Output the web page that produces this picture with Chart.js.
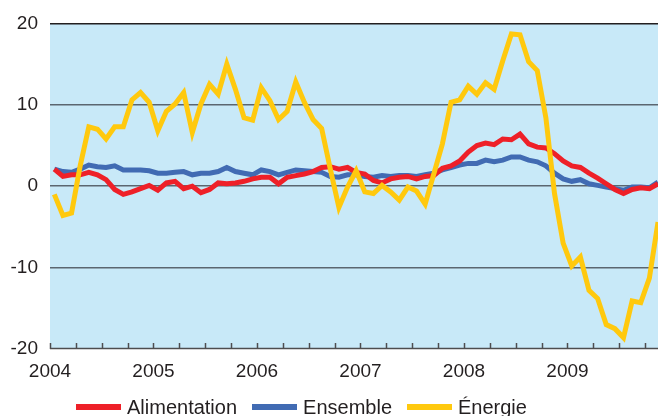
<!DOCTYPE html>
<html>
<head>
<meta charset="utf-8">
<script src="https://cdn.jsdelivr.net/npm/chart.js@4.4.1/dist/chart.umd.min.js"></script>
<style>
    body { margin: 0; background: #fff; overflow: hidden; }
    #wrap { position: relative; width: 658px; height: 416px; overflow: hidden; }
    #myChart { position: absolute; left: 0; top: 0; }
    #legend {
        position: absolute; left: 76px; top: 397px;
        display: flex; gap: 15px;
        font: 20px "Liberation Sans", Arial, sans-serif; line-height: 20px; color: #231f20;
    }
    #legend .item { display: flex; align-items: center; white-space: nowrap; }
    #legend .swatch { width: 45px; height: 6px; margin-right: 6px; }
</style>
</head>
<body>
<div id="wrap">
    <canvas id="myChart" width="658" height="416"></canvas>
    <div id="legend"></div>
</div>
<script>
// tick labels (one per year, Jan 2004 = month 0)
const years = ['2004', '2005', '2006', '2007', '2008', '2009'];
const seriesNames = ['Alimentation', 'Ensemble', 'Énergie'];
const seriesColors = ['#ee2028', '#416bb3', '#ffc90e'];

// monthly values, Jan 2004 .. Nov 2009
const alimentation = [
    2.1, 1.2, 1.4, 1.4, 1.7, 1.4, 0.8, -0.4, -1.0, -0.7, -0.3, 0.1,
    -0.5, 0.4, 0.6, -0.3, 0.0, -0.8, -0.4, 0.4, 0.3, 0.4, 0.6, 0.9,
    1.1, 1.1, 0.3, 1.1, 1.3, 1.5, 1.8, 2.3, 2.4, 2.1, 2.3, 1.7,
    1.5, 0.7, 0.4, 0.9, 1.1, 1.2, 0.9, 1.2, 1.3, 2.2, 2.5, 3.1,
    4.2, 5.0, 5.3, 5.1, 5.8, 5.7, 6.4, 5.2, 4.8, 4.7, 4.0, 3.1,
    2.5, 2.3, 1.6, 1.0, 0.3, -0.4, -0.9, -0.4, -0.2, -0.3, 0.3
];
const ensemble = [
    2.1, 1.8, 1.7, 2.1, 2.6, 2.4, 2.3, 2.5, 2.0, 2.0, 2.0, 1.9,
    1.6, 1.6, 1.7, 1.8, 1.4, 1.6, 1.6, 1.8, 2.3, 1.8, 1.6, 1.4,
    2.0, 1.8, 1.4, 1.7, 2.0, 1.9, 1.8, 1.7, 1.2, 1.1, 1.4, 1.4,
    1.2, 1.1, 1.3, 1.2, 1.3, 1.3, 1.2, 1.4, 1.6, 2.0, 2.3, 2.6,
    2.8, 2.8, 3.2, 3.0, 3.2, 3.6, 3.6, 3.2, 3.0, 2.5, 1.6, 0.9,
    0.6, 0.8, 0.3, 0.1, -0.1, -0.3, -0.5, -0.1, -0.1, -0.2, 0.5
];
const energie = [
    -1.0, -3.6, -3.3, 2.5, 7.3, 7.0, 5.8, 7.3, 7.3, 10.6, 11.5, 10.3,
    6.8, 9.2, 10.1, 11.5, 6.6, 10.1, 12.5, 11.3, 15.0, 11.9, 8.4, 8.1,
    12.1, 10.5, 8.2, 9.2, 12.8, 10.3, 8.2, 7.1, 2.1, -2.6, -0.1, 1.9,
    -0.7, -0.9, 0.1, -0.7, -1.7, -0.1, -0.6, -2.2, 1.5, 5.2, 10.3, 10.6,
    12.3, 11.3, 12.7, 11.9, 15.4, 18.7, 18.6, 15.3, 14.2, 8.4, -0.9, -7.0,
    -9.8, -8.7, -12.8, -13.8, -17.0, -17.5, -18.6, -14.1, -14.3, -11.3, -4.4
];
const yTicks = [-20, -10, 0, 10, 20];

// points sit in the middle of their month
const toPoints = (values) => values.map((v, i) => ({ x: i + 0.5, y: v }));

// light blue plot background
const plotBackground = {
    id: 'plotBackground',
    beforeDraw: (chart) => {
        const a = chart.chartArea;
        const c = chart.ctx;
        c.save();
        c.fillStyle = '#c8e9f8';
        c.fillRect(a.left, a.top, a.right - a.left, a.bottom - a.top);
        c.restore();
    }
};

// quarter tick marks pointing up into the plot + bottom axis line
const quarterTicks = {
    id: 'quarterTicks',
    afterDatasetsDraw: (chart) => {
        const a = chart.chartArea;
        const x = chart.scales.x;
        const c = chart.ctx;
        c.save();
        c.strokeStyle = '#4d4d4f';
        c.lineWidth = 1.5;
        c.beginPath();
        for (let m = 0; m <= 69; m += 3) {
            const px = Math.round(x.getPixelForValue(m)) + 0.5;
            c.moveTo(px, a.bottom - 6);
            c.lineTo(px, a.bottom);
        }
        c.moveTo(a.left, a.bottom - 0.5);
        c.lineTo(a.right, a.bottom - 0.5);
        c.stroke();
        c.restore();
    }
};

const datasets = [alimentation, ensemble, energie].map((values, i) => ({
    label: seriesNames[i],
    data: toPoints(values),
    borderColor: seriesColors[i],
    backgroundColor: seriesColors[i],
    borderWidth: 5,
    pointRadius: 0,
    tension: 0,
    order: [1, 2, 0][i]
}));

Chart.defaults.font.family = '"Liberation Sans", Arial, sans-serif';
Chart.defaults.color = '#231f20';

const ctx = document.getElementById('myChart');
const myChart = new Chart(ctx, {
    type: 'line',
    data: { datasets: datasets },
    options: {
        responsive: false,
        animation: false,
        layout: { padding: { top: 22, left: 0, right: 0, bottom: 0 } },
        plugins: { legend: { display: false }, tooltip: { enabled: false } },
        scales: {
            x: {
                type: 'linear',
                min: 0,
                max: 70.5,
                afterBuildTicks: (scale) => {
                    scale.ticks = years.map((y, i) => ({ value: i * 12 }));
                },
                afterFit: (scale) => { scale.height = 67; },
                ticks: {
                    autoSkip: false,
                    maxRotation: 0,
                    padding: 3,
                    font: { size: 19 },
                    callback: (value) => years[value / 12]
                },
                grid: { display: false },
                border: { display: false }
            },
            y: {
                min: -20,
                max: 20,
                afterBuildTicks: (scale) => {
                    scale.ticks = yTicks.map((v) => ({ value: v }));
                },
                afterFit: (scale) => { scale.width = 50; },
                ticks: { padding: 12, font: { size: 19 } },
                grid: {
                    drawTicks: false,
                    color: (c) => c.tick.value === 20 ? '#231f20' : (c.tick.value === -20 ? 'rgba(0,0,0,0)' : '#5b6670'),
                    lineWidth: 1.5
                },
                border: { display: false }
            }
        }
    },
    plugins: [plotBackground, quarterTicks]
});

// html legend under the plot
const legend = document.getElementById('legend');
seriesNames.forEach((name, i) => {
    const item = document.createElement('div');
    item.className = 'item';
    const sw = document.createElement('span');
    sw.className = 'swatch';
    sw.style.background = seriesColors[i];
    const txt = document.createElement('span');
    txt.textContent = name;
    item.appendChild(sw);
    item.appendChild(txt);
    legend.appendChild(item);
});
</script>
</body>
</html>
